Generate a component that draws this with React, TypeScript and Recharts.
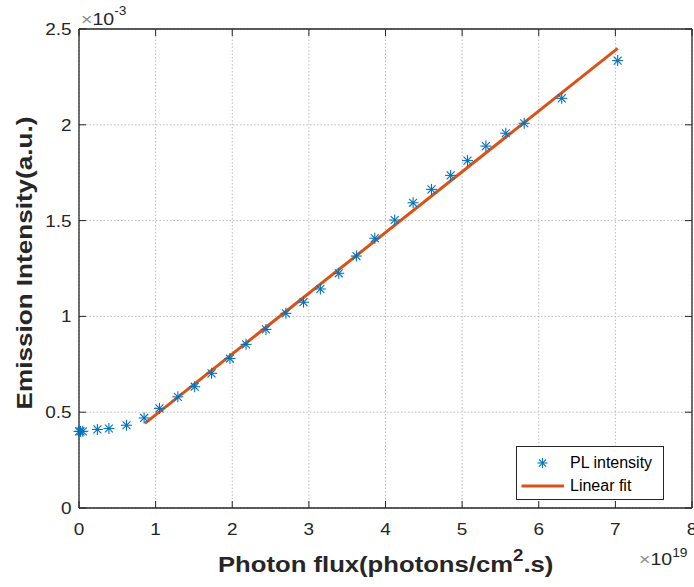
import React from 'react';
import { ComposedChart, XAxis, YAxis, CartesianGrid, Scatter, Line, ReferenceLine, Legend } from 'recharts';

// Photon flux (×10^19 photons/cm².s)
const plFlux = [0, 0.02, 0.05, 0.24, 0.39, 0.62, 0.85, 1.05, 1.29, 1.51, 1.73, 1.97, 2.18, 2.44, 2.70, 2.93, 3.15, 3.39, 3.62, 3.86, 4.12, 4.36, 4.60, 4.85, 5.07, 5.31, 5.57, 5.81, 6.30, 7.03];
// Emission intensity (×10^-3 a.u.)
const plIntensity = [0.40, 0.40, 0.40, 0.41, 0.415, 0.432, 0.47, 0.52, 0.58, 0.633, 0.703, 0.78, 0.854, 0.932, 1.016, 1.074, 1.143, 1.225, 1.315, 1.408, 1.503, 1.593, 1.663, 1.736, 1.813, 1.889, 1.956, 2.008, 2.138, 2.335];
const fitFlux = [0.86, 7.03];
const fitIntensity = [0.442, 2.399];
const xTicks = [0, 1, 2, 3, 4, 5, 6, 7, 8];
const yTicks = [0, 0.5, 1, 1.5, 2, 2.5];
const seriesNames = ['PL intensity', 'Linear fit'];

const plData = plFlux.map((x, i) => ({ x, y: plIntensity[i] }));
const fitData = fitFlux.map((x, i) => ({ x, y: fitIntensity[i] }));

const W = 694;
const H = 587;
const LEFT = 79;
const TOP = 29;
const RIGHT = 692;
const BOTTOM = 508;
const TICK = 7;
const BLUE = '#0072BD';
const ORANGE = '#D95319';
const INK = '#262626';
const FONT = '"Liberation Sans", Arial, Helvetica, sans-serif';

function Asterisk({ cx, cy, r = 5.5 }: { cx: number; cy: number; r?: number }) {
  const d = r * 0.72;
  return (
    <g stroke={BLUE} strokeWidth={1.1} fill="none">
      <line x1={cx - r} y1={cy} x2={cx + r} y2={cy} />
      <line x1={cx} y1={cy - r} x2={cx} y2={cy + r} />
      <line x1={cx - d} y1={cy - d} x2={cx + d} y2={cy + d} />
      <line x1={cx - d} y1={cy + d} x2={cx + d} y2={cy - d} />
    </g>
  );
}

const StarShape = (props: any) => <Asterisk cx={props.cx} cy={props.cy} />;

const XTick = (props: any) => {
  const { x, payload } = props;
  return (
    <g>
      <line x1={x} x2={x} y1={BOTTOM} y2={BOTTOM - TICK} stroke={INK} strokeWidth={1} />
      <line x1={x} x2={x} y1={TOP} y2={TOP + TICK} stroke={INK} strokeWidth={1} />
      <text
        transform={`translate(${x},535) scale(1.15,1)`}
        textAnchor="middle"
        fontSize={16.5}
        fill={INK}
        fontFamily={FONT}
      >
        {payload.value}
      </text>
    </g>
  );
};

const YTick = (props: any) => {
  const { y, payload } = props;
  return (
    <g>
      <line x1={LEFT} x2={LEFT + TICK} y1={y} y2={y} stroke={INK} strokeWidth={1} />
      <line x1={RIGHT} x2={RIGHT - TICK} y1={y} y2={y} stroke={INK} strokeWidth={1} />
      <text
        transform={`translate(71.5,${y + 6}) scale(1.15,1)`}
        textAnchor="end"
        fontSize={16.5}
        fill={INK}
        fontFamily={FONT}
      >
        {payload.value}
      </text>
    </g>
  );
};

const LegendBox = () => (
  <div
    style={{
      position: 'relative',
      width: 146,
      height: 52,
      border: `1px solid ${INK}`,
      background: '#fff',
      fontFamily: FONT,
      fontSize: 16,
      color: '#000',
      boxSizing: 'content-box',
    }}
  >
    <svg width={146} height={52} style={{ position: 'absolute', left: 0, top: 0 }}>
      <Asterisk cx={25.5} cy={16} r={5} />
      <line x1={4.5} x2={47} y1={39} y2={39} stroke={ORANGE} strokeWidth={3} />
    </svg>
    <span style={{ position: 'absolute', left: 53, top: 7, lineHeight: '18px', whiteSpace: 'nowrap' }}>{seriesNames[0]}</span>
    <span style={{ position: 'absolute', left: 53, top: 30, lineHeight: '18px', whiteSpace: 'nowrap' }}>{seriesNames[1]}</span>
  </div>
);

export default function App() {
  return (
    <div style={{ position: 'absolute', left: 0, top: 0, width: W, height: H, background: '#fff' }}>
      <ComposedChart width={W} height={H} margin={{ top: TOP, right: W - RIGHT, bottom: 0, left: 0 }}>
        <CartesianGrid stroke="#bdbdbd" strokeDasharray="1.5 2" strokeWidth={1} />
        <XAxis
          type="number"
          dataKey="x"
          domain={[0, 8]}
          ticks={xTicks}
          height={H - BOTTOM}
          tickSize={0}
          tickMargin={0}
          tickLine={false}
          axisLine={{ stroke: INK, strokeWidth: 1.3 }}
          tick={<XTick />}
          interval={0}
        />
        <YAxis
          type="number"
          domain={[0, 2.5]}
          ticks={yTicks}
          width={LEFT}
          tickSize={0}
          tickMargin={0}
          tickLine={false}
          axisLine={{ stroke: INK, strokeWidth: 1.3 }}
          tick={<YTick />}
          interval={0}
        />
        <ReferenceLine y={2.5} stroke={INK} strokeWidth={1.3} />
        <ReferenceLine x={8} stroke={INK} strokeWidth={1.3} />
        <Line
          data={fitData}
          dataKey="y"
          type="linear"
          stroke={ORANGE}
          strokeWidth={3}
          dot={false}
          activeDot={false}
          isAnimationActive={false}
          name={seriesNames[1]}
        />
        <Scatter
          data={plData}
          dataKey="y"
          shape={StarShape}
          isAnimationActive={false}
          name={seriesNames[0]}
        />
        <Legend
          layout="vertical"
          align="center"
          verticalAlign="middle"
          wrapperStyle={{ left: 516, top: 446, width: 148, height: 54 }}
          content={() => <LegendBox />}
        />
      </ComposedChart>
      <svg
        width={W}
        height={H}
        style={{ position: 'absolute', left: 0, top: 0, pointerEvents: 'none' }}
      >
        <text transform="translate(81,25) scale(1.15,1)" fontSize={17} fontFamily={FONT} fill={INK}>
          <tspan fill="#8c8c8c">×</tspan>
          <tspan>10</tspan>
          <tspan dy={-10} fontSize={12}>-3</tspan>
        </text>
        <text transform="translate(639,565) scale(1.15,1)" fontSize={17} fontFamily={FONT} fill={INK}>
          <tspan fill="#8c8c8c">×</tspan>
          <tspan>10</tspan>
          <tspan dy={-8.5} fontSize={12}>19</tspan>
        </text>
        <text
          transform="translate(218,572) scale(1.167,1)"
          fontSize={22}
          fontWeight="bold"
          fontFamily={FONT}
          fill={INK}
        >
          <tspan>Photon flux(photons/cm</tspan>
          <tspan dy={-11} fontSize={16}>2</tspan>
          <tspan dy={11}>.s)</tspan>
        </text>
        <text
          transform="translate(32,263) rotate(-90) scale(1.186,1)"
          textAnchor="middle"
          fontSize={22}
          fontWeight="bold"
          fontFamily={FONT}
          fill={INK}
        >
          Emission Intensity(a.u.)
        </text>
      </svg>
    </div>
  );
}
